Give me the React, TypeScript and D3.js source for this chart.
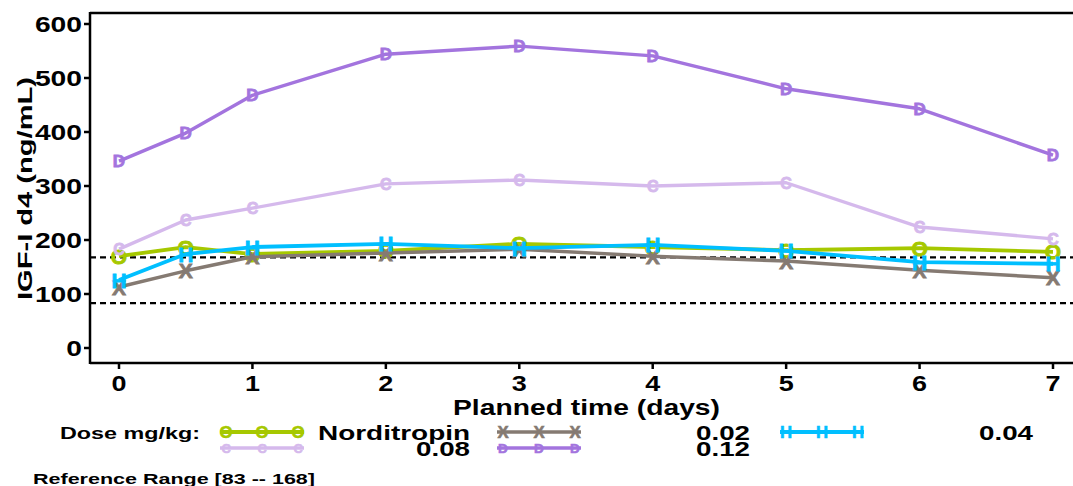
import React, { useEffect, useRef } from "react";
import * as d3 from "d3";

// planned time (days)
const times = [0, 0.5, 1, 2, 3, 4, 5, 6, 7];
const xTicks = [0, 1, 2, 3, 4, 5, 6, 7];
const yTicks = [0, 100, 200, 300, 400, 500, 600];

// IGF-I d4 (ng/mL) per dose group
const norditropin = [170, 187, 174, 180, 193, 187, 181, 185, 178];
const dose002 = [113, 143, 169, 176, 183, 170, 161, 144, 130];
const dose004 = [126, 174, 187, 193, 185, 191, 180, 159, 156];
const dose008 = [183, 237, 259, 304, 311, 300, 306, 224, 202];
const dose012 = [346, 398, 468, 544, 559, 541, 480, 443, 357];

const refRange = [83, 168];

const series = [
  { name: "Norditropin", values: norditropin, color: "#a6c800", mark: "O", size: 21, width: 3.8 },
  { name: "0.02", values: dose002, color: "#857a72", mark: "X", size: 21, width: 3.4 },
  { name: "0.04", values: dose004, color: "#00bfff", mark: "H", size: 21, width: 3.8 },
  { name: "0.08", values: dose008, color: "#d5b9ec", mark: "C", size: 16, width: 3.4 },
  { name: "0.12", values: dose012, color: "#a374de", mark: "D", size: 17, width: 3.4 },
];

const font = "Liberation Sans, Arial, sans-serif";

const Chart = () => {
  const svgRef = useRef<SVGSVGElement>(null);

  useEffect(() => {
    const svg = d3.select(svgRef.current);
    svg.selectAll("*").remove();

    const left = 90, right = 1073, top = 13, bottom = 363;
    const x = d3.scaleLinear().domain([0, 7]).range([119, 1053]);
    const y = d3.scaleLinear().domain([0, 600]).range([348, 24]);

    // frame
    svg.append("line").attr("x1", left).attr("x2", right).attr("y1", top).attr("y2", top)
      .attr("stroke", "#000").attr("stroke-width", 2.5);
    svg.append("line").attr("x1", left).attr("x2", right).attr("y1", bottom).attr("y2", bottom)
      .attr("stroke", "#000").attr("stroke-width", 2.5);
    svg.append("line").attr("x1", left).attr("x2", left).attr("y1", top - 1).attr("y2", bottom + 1)
      .attr("stroke", "#000").attr("stroke-width", 2.5);

    // y ticks
    const yg = svg.append("g");
    yTicks.forEach((t) => {
      yg.append("line").attr("x1", left - 6).attr("x2", left).attr("y1", y(t)).attr("y2", y(t))
        .attr("stroke", "#000").attr("stroke-width", 2.5);
      const s = String(t);
      yg.append("text").attr("x", 82).attr("y", y(t)).attr("dy", "0.37em")
        .attr("text-anchor", "end").attr("font-family", font).attr("font-weight", "bold")
        .attr("font-size", 22).attr("textLength", s.length * 15.7).attr("lengthAdjust", "spacingAndGlyphs")
        .text(s);
    });

    // x ticks
    const xg = svg.append("g");
    xTicks.forEach((t) => {
      xg.append("line").attr("x1", x(t)).attr("x2", x(t)).attr("y1", bottom).attr("y2", bottom + 6)
        .attr("stroke", "#000").attr("stroke-width", 2.5);
      xg.append("text").attr("x", x(t)).attr("y", 391).attr("text-anchor", "middle")
        .attr("font-family", font).attr("font-weight", "bold").attr("font-size", 22)
        .attr("textLength", 15).attr("lengthAdjust", "spacingAndGlyphs").text(String(t));
    });

    // axis titles
    svg.append("text").attr("x", 453).attr("y", 415).attr("font-family", font)
      .attr("font-weight", "bold").attr("font-size", 22).attr("textLength", 267)
      .attr("lengthAdjust", "spacingAndGlyphs").text("Planned time (days)");
    svg.append("text").attr("transform", "translate(32,300) rotate(-90)")
      .attr("font-family", font).attr("font-weight", "bold").attr("font-size", 21)
      .attr("textLength", 223).attr("lengthAdjust", "spacingAndGlyphs").text("IGF-I d4 (ng/mL)");

    // reference range
    refRange.forEach((r) => {
      svg.append("line").attr("x1", left).attr("x2", right).attr("y1", y(r)).attr("y2", y(r))
        .attr("stroke", "#000").attr("stroke-width", 2.2).attr("stroke-dasharray", "6,4");
    });

    const line = d3.line<number>().x((_, i) => x(times[i])).y((d) => y(d));

    series.forEach((s) => {
      const g = svg.append("g");
      g.append("path").datum(s.values).attr("d", line).attr("fill", "none")
        .attr("stroke", s.color).attr("stroke-width", s.width).attr("stroke-linejoin", "round");
      g.selectAll("text").data(s.values).enter().append("text")
        .attr("x", (_, i) => x(times[i])).attr("y", (d) => y(d)).attr("dy", "0.36em")
        .attr("text-anchor", "middle").attr("font-family", font).attr("font-size", s.size)
        .attr("font-weight", "bold")
        .attr("fill", s.color).attr("stroke", s.color).attr("stroke-width", 0.8)
        .text(s.mark);
    });

    // legend
    const lg = svg.append("g");
    lg.append("text").attr("x", 60).attr("y", 439).attr("font-family", font)
      .attr("font-weight", "bold").attr("font-size", 17).attr("textLength", 140)
      .attr("lengthAdjust", "spacingAndGlyphs").text("Dose mg/kg:");
    const slots = [
      { x0: 220, row: 0, tx: 470 },
      { x0: 497, row: 0, tx: 750 },
      { x0: 780, row: 0, tx: 1033 },
      { x0: 220, row: 1, tx: 470 },
      { x0: 497, row: 1, tx: 750 },
    ];
    series.forEach((s, i) => {
      const sl = slots[i];
      const ly = 432 + sl.row * 16;
      lg.append("line").attr("x1", sl.x0).attr("x2", sl.x0 + 84).attr("y1", ly).attr("y2", ly)
        .attr("stroke", s.color).attr("stroke-width", s.width);
      [0, 0.5, 1].forEach((f) => {
        lg.append("text").attr("x", sl.x0 + 6 + f * 72).attr("y", ly).attr("dy", "0.36em")
          .attr("text-anchor", "middle").attr("font-family", font).attr("font-size", s.size * 0.8)
          .attr("font-weight", "bold")
          .attr("fill", s.color).attr("stroke", s.color).attr("stroke-width", 0.6).text(s.mark);
      });
      const w = s.name === "Norditropin" ? 152 : 54;
      lg.append("text").attr("x", sl.tx).attr("y", ly + 8).attr("text-anchor", "end")
        .attr("font-family", font).attr("font-weight", "bold").attr("font-size", 21)
        .attr("textLength", w).attr("lengthAdjust", "spacingAndGlyphs").text(s.name);
    });

    svg.append("text").attr("x", 33).attr("y", 484).attr("font-family", font)
      .attr("font-weight", "bold").attr("font-size", 15).attr("textLength", 282)
      .attr("lengthAdjust", "spacingAndGlyphs").text("Reference Range [83 -- 168]");
  }, []);

  return <svg ref={svgRef} width={1073} height={486} style={{ display: "block" }} />;
};

export default function App() {
  return (
    <div style={{ position: "absolute", left: 0, top: 0 }}>
      <Chart />
    </div>
  );
}
